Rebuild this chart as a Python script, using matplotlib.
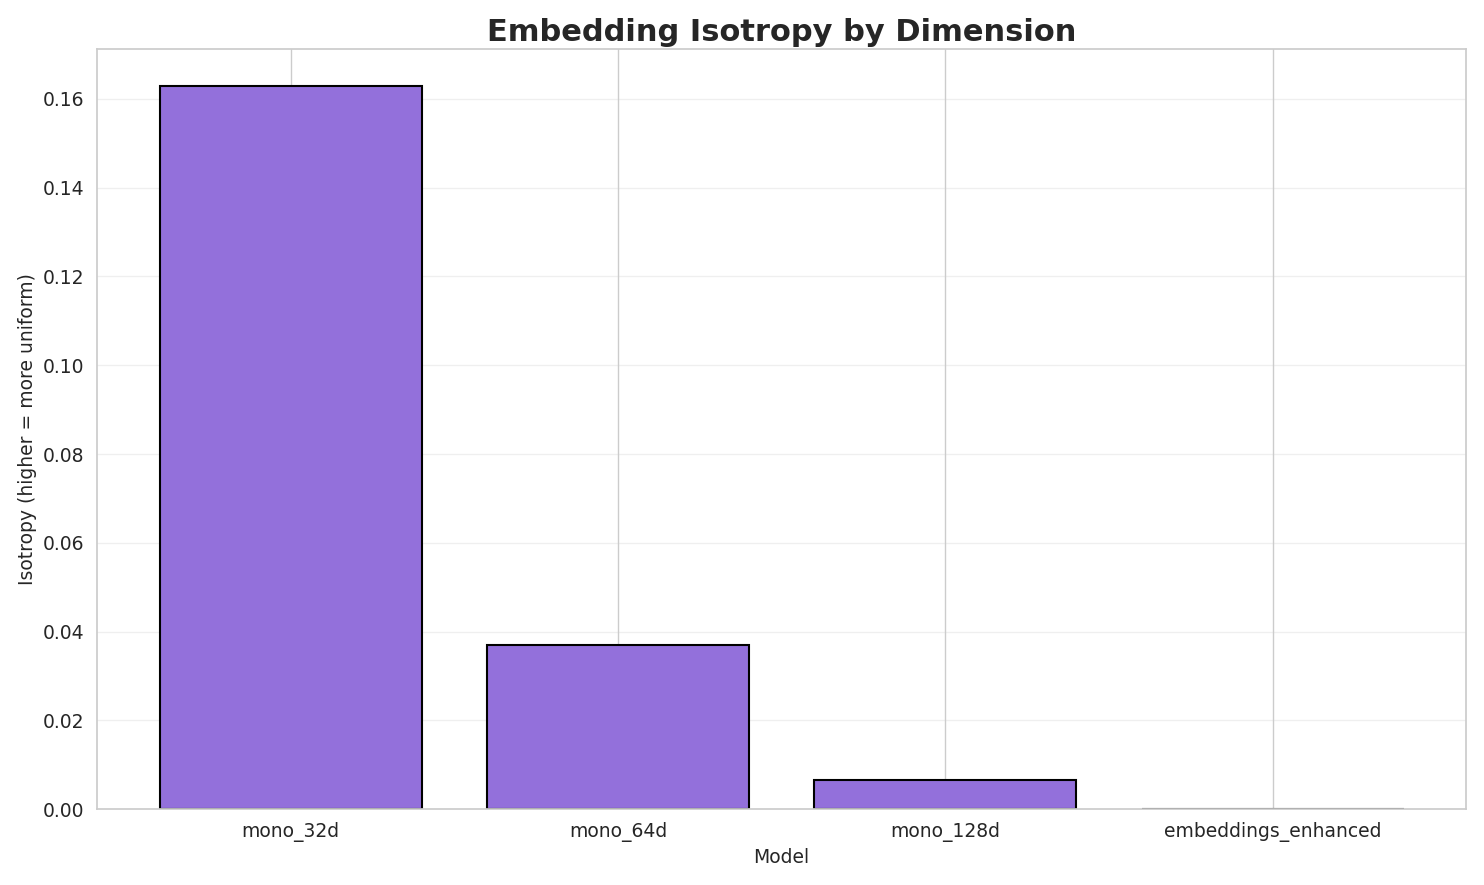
import matplotlib
matplotlib.use("Agg")
import matplotlib.pyplot as plt
import seaborn as sns

sns.set_theme(style="whitegrid")
plt.rcParams['font.family'] = ['DejaVu Sans']

models = ["mono_32d", "mono_64d", "mono_128d", "embeddings_enhanced"]
isotropy = [0.163, 0.037, 0.0065, 0.00005]

fig, ax = plt.subplots(figsize=(14.84, 8.85), dpi=100)
ax.bar(models, isotropy, color="#9370DB", edgecolor="black", linewidth=1.5)
ax.yaxis.grid(True, alpha=0.3)
ax.set_title("Embedding Isotropy by Dimension", fontsize=22, fontweight="bold")
ax.set_xlabel("Model", fontsize=13.5)
ax.set_ylabel("Isotropy (higher = more uniform)", fontsize=13.5)
ax.tick_params(labelsize=13.5)
fig.tight_layout()
fig.savefig("out.png", dpi=100)
